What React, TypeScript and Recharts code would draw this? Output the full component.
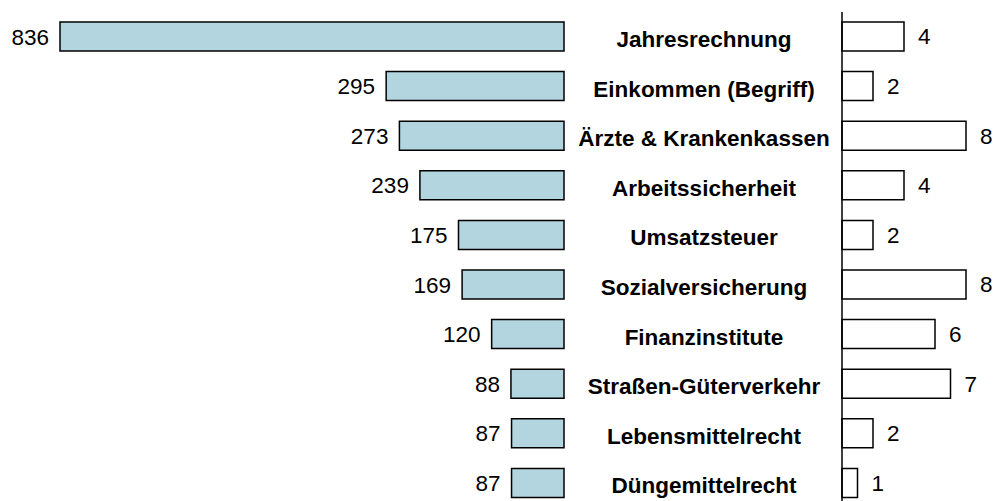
import { BarChart, Bar, XAxis, YAxis, LabelList } from 'recharts'

const themen = [
  'Jahresrechnung',
  'Einkommen (Begriff)',
  'Ärzte & Krankenkassen',
  'Arbeitssicherheit',
  'Umsatzsteuer',
  'Sozialversicherung',
  'Finanzinstitute',
  'Straßen-Güterverkehr',
  'Lebensmittelrecht',
  'Düngemittelrecht',
]
const anzahlLinks = [836, 295, 273, 239, 175, 169, 120, 88, 87, 87]
const anzahlRechts = [4, 2, 8, 4, 2, 8, 6, 7, 2, 1]

const dados = themen.map((thema, i) => ({
  thema,
  links: anzahlLinks[i],
  rechts: anzahlRechts[i],
}))

const FONT = '"Liberation Sans", Arial, sans-serif'
const FS = 22.5
const H = 510
const M = { top: 12, bottom: 2 }

// label left of the (reversed) bar, whichever sign the width has
function LinksLabel(props: any) {
  const { x, y, width, height, value } = props
  const left = Math.min(x, x + width)
  return (
    <text
      x={left - 11}
      y={y + height / 2}
      dy="0.36em"
      textAnchor="end"
      fontFamily={FONT}
      fontSize={FS}
      fill="#000"
    >
      {value}
    </text>
  )
}

function ThemaTick(props: any) {
  const { y, payload } = props
  return (
    <text
      x={139}
      y={y}
      dy="0.45em"
      textAnchor="middle"
      fontFamily={FONT}
      fontSize={FS}
      fontWeight="bold"
      fill="#000"
    >
      {payload.value}
    </text>
  )
}

export default function App() {
  return (
    <div
      style={{
        position: 'absolute',
        left: 0,
        top: 0,
        width: 997,
        height: 501,
        overflow: 'hidden',
        background: '#fff',
      }}
    >
      <div style={{ position: 'absolute', left: 0, top: 0 }}>
        <BarChart
          width={565}
          height={H}
          data={dados}
          layout="vertical"
          margin={{ top: M.top, bottom: M.bottom, left: 60, right: 1 }}
          barSize={29}
        >
          <XAxis type="number" domain={[0, 836]} reversed hide />
          <YAxis
            type="category"
            dataKey="thema"
            orientation="right"
            width={0}
            tick={false}
            tickLine={false}
            axisLine={{ stroke: '#000', strokeWidth: 1.5 }}
          />
          <Bar
            dataKey="links"
            fill="#b3d5df"
            stroke="#000"
            strokeWidth={1.5}
            isAnimationActive={false}
          >
            <LabelList dataKey="links" content={LinksLabel} />
          </Bar>
        </BarChart>
      </div>
      <div style={{ position: 'absolute', left: 565, top: 0 }}>
        <BarChart
          width={432}
          height={H}
          data={dados}
          layout="vertical"
          margin={{ top: M.top, bottom: M.bottom, left: 0, right: 0 }}
          barSize={29}
        >
          <XAxis type="number" domain={[0, 10]} hide />
          <YAxis
            type="category"
            dataKey="thema"
            width={277}
            tick={ThemaTick}
            tickLine={false}
            axisLine={{ stroke: '#000', strokeWidth: 1.5 }}
          />
          <Bar
            dataKey="rechts"
            fill="#fff"
            stroke="#000"
            strokeWidth={1.5}
            isAnimationActive={false}
          >
            <LabelList
              dataKey="rechts"
              position="right"
              offset={14}
              fontFamily={FONT}
              fontSize={FS}
              fill="#000"
            />
          </Bar>
        </BarChart>
      </div>
    </div>
  )
}
